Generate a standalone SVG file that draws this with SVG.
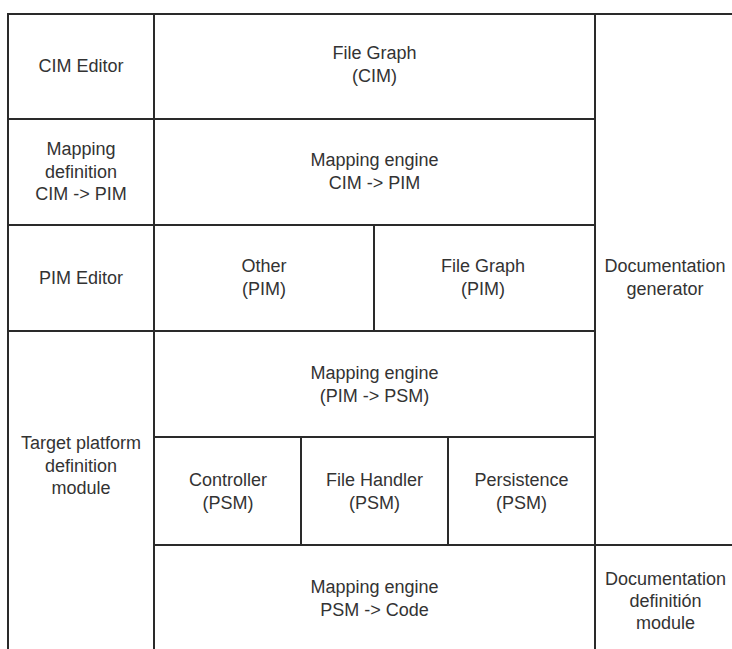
<svg xmlns="http://www.w3.org/2000/svg" width="732" height="649" viewBox="0 0 732 649">
<style>
.c{fill:#fff;stroke:#2a2a2a;stroke-width:2}
.t{font-family:"Liberation Sans",Arial,sans-serif;font-size:18px;fill:#333;text-anchor:middle}
</style>
<rect x="0" y="0" width="732" height="649" fill="#fff"/>
<g id="doc-generator"><rect class="c" x="595" y="14" width="200" height="531"/>
<text class="t" x="665" y="272">Documentation</text><text class="t" x="665" y="294.5">generator</text></g>
<g id="doc-definition"><rect class="c" x="595" y="545" width="200" height="200"/>
<text class="t" x="665.5" y="585">Documentation</text><text class="t" x="665.5" y="607">definitión</text><text class="t" x="665.5" y="629">module</text></g>
<g id="cim-editor"><rect class="c" x="8" y="14" width="146" height="105"/>
<text class="t" x="81" y="72">CIM Editor</text></g>
<g id="file-graph-cim"><rect class="c" x="154" y="14" width="441" height="105"/>
<text class="t" x="374.5" y="59">File Graph</text><text class="t" x="374.5" y="82">(CIM)</text></g>
<g id="mapping-definition"><rect class="c" x="8" y="119" width="146" height="106"/>
<text class="t" x="81" y="155">Mapping</text><text class="t" x="81" y="177.5">definition</text><text class="t" x="81" y="200">CIM -&gt; PIM</text></g>
<g id="mapping-engine-cim-pim"><rect class="c" x="154" y="119" width="441" height="106"/>
<text class="t" x="374.5" y="166">Mapping engine</text><text class="t" x="374.5" y="188.5">CIM -&gt; PIM</text></g>
<g id="pim-editor"><rect class="c" x="8" y="225" width="146" height="106"/>
<text class="t" x="81" y="284">PIM Editor</text></g>
<g id="other-pim"><rect class="c" x="154" y="225" width="220" height="106"/>
<text class="t" x="264" y="272">Other</text><text class="t" x="264" y="294.5">(PIM)</text></g>
<g id="file-graph-pim"><rect class="c" x="374" y="225" width="221" height="106"/>
<text class="t" x="483" y="272">File Graph</text><text class="t" x="483" y="294.5">(PIM)</text></g>
<g id="target-platform"><rect class="c" x="8" y="331" width="146" height="400"/>
<text class="t" x="81" y="449">Target platform</text><text class="t" x="81" y="471.5">definition</text><text class="t" x="81" y="494">module</text></g>
<g id="mapping-engine-pim-psm"><rect class="c" x="154" y="331" width="441" height="106"/>
<text class="t" x="374.5" y="379">Mapping engine</text><text class="t" x="374.5" y="401.5">(PIM -&gt; PSM)</text></g>
<g id="controller"><rect class="c" x="154" y="437" width="147" height="108"/>
<text class="t" x="228" y="486">Controller</text><text class="t" x="228" y="508.5">(PSM)</text></g>
<g id="file-handler"><rect class="c" x="301" y="437" width="147" height="108"/>
<text class="t" x="374.5" y="486">File Handler</text><text class="t" x="374.5" y="508.5">(PSM)</text></g>
<g id="persistence"><rect class="c" x="448" y="437" width="147" height="108"/>
<text class="t" x="521.5" y="486">Persistence</text><text class="t" x="521.5" y="508.5">(PSM)</text></g>
<g id="mapping-engine-psm-code"><rect class="c" x="154" y="545" width="441" height="200"/>
<text class="t" x="374.5" y="593">Mapping engine</text><text class="t" x="374.5" y="615.5">PSM -&gt; Code</text></g>
<g id="connectors"></g>
</svg>
